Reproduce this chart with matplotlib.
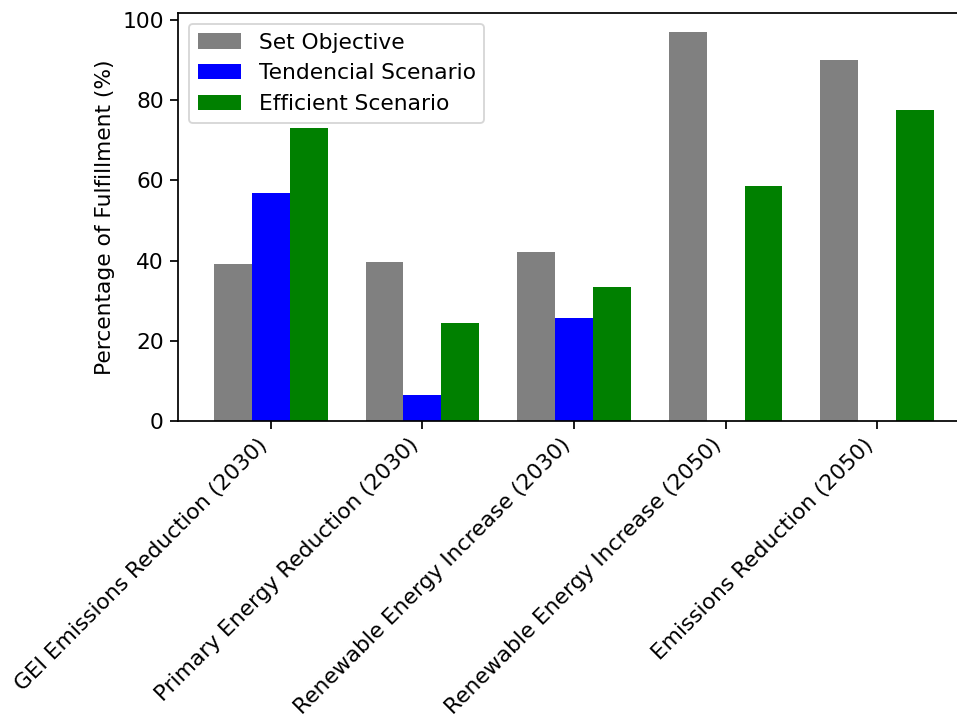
import numpy as np
import matplotlib
matplotlib.use('Agg')
import matplotlib.pyplot as plt

# fulfillment per target
targets = ['GEI Emissions Reduction (2030)', 'Primary Energy Reduction (2030)',
           'Renewable Energy Increase (2030)', 'Renewable Energy Increase (2050)',
           'Emissions Reduction (2050)']
set_objective = [39.1, 39.6, 42.1, 97.0, 90.0]
tendencial = [56.9, 6.4, 25.6, 0, 0]
efficient = [73.0, 24.4, 33.4, 58.5, 77.5]

# slightly enlarged defaults
k = 1.19
plt.rcParams.update({
    'font.size': 10 * k,
    'axes.linewidth': 0.8 * k,
    'xtick.major.size': 3.5 * k,
    'ytick.major.size': 3.5 * k,
    'xtick.major.width': 0.8 * k,
    'ytick.major.width': 0.8 * k,
})

dpi = 132
fig = plt.figure(figsize=(957 / dpi, 718 / dpi), dpi=dpi)
# y range is 0..~101.85 (auto margin), 4.004 px per percent
ax = fig.add_axes([178 / 957, (718 - 420.7) / 718, (970 - 178) / 957, 407.8 / 718])

x = np.arange(len(targets))
width = 0.25
ax.bar(x - width, set_objective, width, color='gray', label='Set Objective')
ax.bar(x, tendencial, width, color='blue', label='Tendencial Scenario')
ax.bar(x + width, efficient, width, color='green', label='Efficient Scenario')

ax.set_xticks(x)
ax.set_xticklabels(targets, rotation=45, ha='right')
ax.set_ylabel('Percentage of Fulfillment (%)')
ax.spines['right'].set_visible(False)
ax.legend(loc='upper left')

fig.savefig('out.png', dpi=dpi)
